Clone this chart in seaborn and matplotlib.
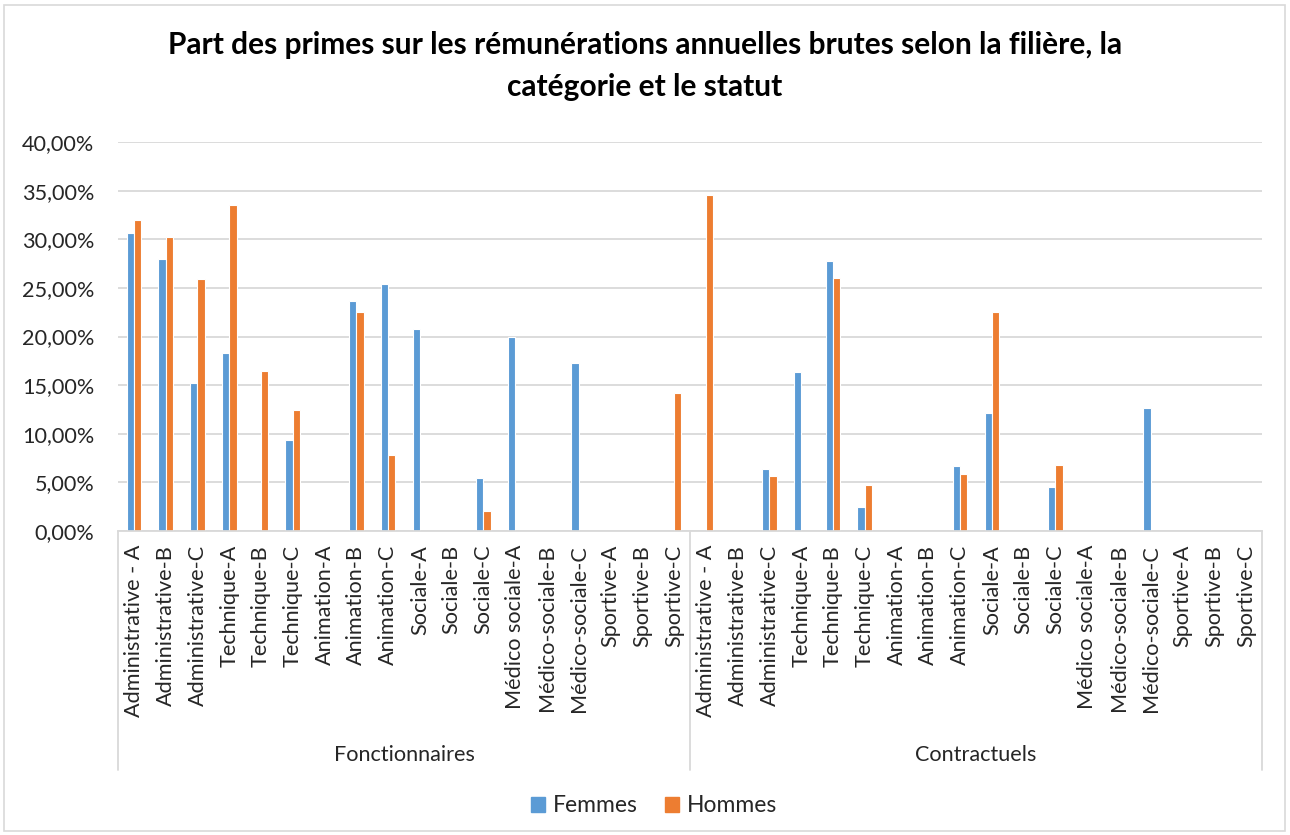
import numpy as np
import pandas as pd
import seaborn as sns
import matplotlib.pyplot as plt
from matplotlib.patches import Rectangle
from matplotlib.lines import Line2D
from matplotlib.transforms import blended_transform_factory

# Category labels (same list for both statuses)
postes = [
    "Administrative - A", "Administrative-B", "Administrative-C",
    "Technique-A", "Technique-B", "Technique-C",
    "Animation-A", "Animation-B", "Animation-C",
    "Sociale-A", "Sociale-B", "Sociale-C",
    "Médico sociale-A", "Médico-sociale-B", "Médico-sociale-C",
    "Sportive-A", "Sportive-B", "Sportive-C",
]
statuts = ["Fonctionnaires", "Contractuels"]
sexes = ["Femmes", "Hommes"]

nan = np.nan
# Share of bonuses in gross annual pay (%), in the order of `postes`
fonct_femmes = [30.6, 28.0, 15.2, 18.3, nan, 9.4, nan, 23.6, 25.4, 20.8, nan, 5.4,
                19.9, nan, 17.3, nan, nan, nan]
fonct_hommes = [32.0, 30.2, 25.9, 33.5, 16.5, 12.4, nan, 22.5, 7.8, nan, nan, 2.1,
                nan, nan, nan, nan, nan, 14.2]
contr_femmes = [nan, nan, 6.4, 16.3, 27.8, 2.5, nan, nan, 6.7, 12.1, nan, 4.5,
                nan, nan, 12.6, nan, nan, nan]
contr_hommes = [34.6, nan, 5.7, nan, 26.0, 4.7, nan, nan, 5.9, 22.5, nan, 6.8,
                nan, nan, nan, nan, nan, nan]

values = {
    ("Fonctionnaires", "Femmes"): fonct_femmes,
    ("Fonctionnaires", "Hommes"): fonct_hommes,
    ("Contractuels", "Femmes"): contr_femmes,
    ("Contractuels", "Hommes"): contr_hommes,
}

rows = []
for statut in statuts:
    for i, poste in enumerate(postes):
        for sexe in sexes:
            rows.append({"cle": f"{statut}|{poste}", "poste": poste,
                         "statut": statut, "sexe": sexe,
                         "part": values[(statut, sexe)][i]})
df = pd.DataFrame(rows)
order = [f"{s}|{p}" for s in statuts for p in postes]

sns.set_theme(style="white")
plt.rcParams["font.family"] = ["Lato", "DejaVu Sans"]

TXT = "#262626"
FS = 15.6

fig = plt.figure(figsize=(12.9, 8.35), dpi=100)
ax = fig.add_axes([118 / 1290, 1 - 531 / 835, (1262 - 118) / 1290, (531 - 142) / 835])

palette = {"Femmes": "#5B9BD5", "Hommes": "#ED7D31"}
sns.barplot(data=df, x="cle", y="part", hue="sexe", order=order,
            hue_order=sexes, palette=palette, width=0.46, dodge=True,
            edgecolor="white", linewidth=0.8, errorbar=None, saturation=1,
            ax=ax)

ax.set_ylim(0, 40)
ax.set_xlim(-0.5, len(order) - 0.5)
ax.set_yticks(np.arange(0, 41, 5))
ax.set_yticklabels([f"{v:.2f}%".replace(".", ",") for v in np.arange(0, 41, 5)],
                   fontsize=FS, color=TXT)
ax.yaxis.grid(True, color="#D9D9D9", linewidth=1.3)
ax.set_axisbelow(True)
ax.tick_params(axis="y", length=0, pad=17)
for side in ["top", "right", "left"]:
    ax.spines[side].set_visible(False)
ax.spines["bottom"].set_color("#D9D9D9")
ax.spines["bottom"].set_linewidth(1.3)

ax.set_xticks(range(len(order)))
ax.set_xticklabels([k.split("|")[1] for k in order], rotation=90,
                   fontsize=FS, color=TXT)
ax.tick_params(axis="x", length=0, pad=10)
ax.set_xlabel("")
ax.set_ylabel("")

# Status group separators and labels under the category axis
trans = blended_transform_factory(ax.transData, ax.transAxes)
sep_bottom = -(770 - 531) / (531 - 142)
for xpos in [-0.5, len(postes) - 0.5, len(order) - 0.5]:
    ax.add_line(Line2D([xpos, xpos], [0, sep_bottom], transform=trans,
                       color="#D9D9D9", linewidth=1.3, clip_on=False))
label_y = -(755 - 531) / (531 - 142)
for j, statut in enumerate(statuts):
    xc = j * len(postes) + (len(postes) - 1) / 2
    ax.text(xc, label_y, statut, transform=trans, ha="center", va="center",
            fontsize=FS, color=TXT)

ax.legend_.remove()
handles = [Rectangle((0, 0), 1, 1, color=palette[s]) for s in sexes]
fig.legend(handles, sexes, loc="center", bbox_to_anchor=(654 / 1290, 1 - 806 / 835),
           ncol=2, frameon=False, fontsize=16.5, handlelength=0.6, handleheight=0.6,
           columnspacing=1.2, handletextpad=0.35, labelcolor=TXT)

fig.suptitle("Part des primes sur les rémunérations annuelles brutes selon la filière, la\ncatégorie et le statut",
             y=1 - 31 / 835, va="top", fontsize=21.5, fontweight="bold",
             color="#000000", linespacing=1.6)

# Chart frame
fig.patches.append(Rectangle((4 / 1290, 4 / 835), 1 - 9 / 1290, 1 - 9 / 835,
                             transform=fig.transFigure, fill=False,
                             edgecolor="#D9D9D9", linewidth=1.2))

fig.savefig("out.png", dpi=100, facecolor="white")
